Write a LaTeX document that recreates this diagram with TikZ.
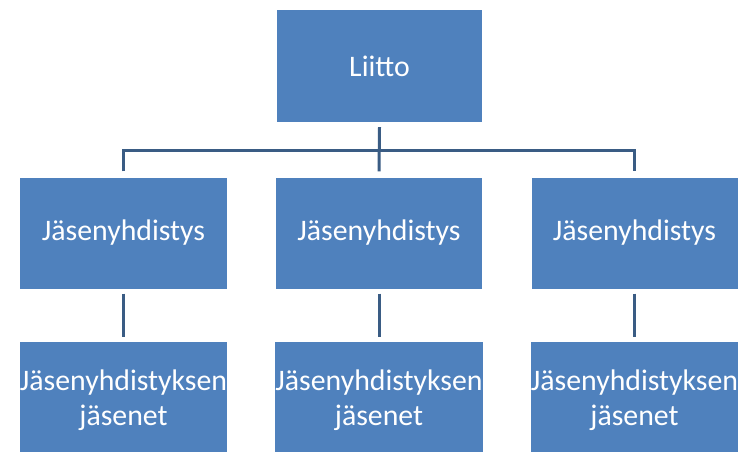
\documentclass[tikz,border=0pt]{standalone}
\usepackage{fontspec}
\setmainfont{Carlito}
\definecolor{boxblue}{HTML}{4F81BD}
\definecolor{linecol}{HTML}{3A5C84}
\begin{document}
\begin{tikzpicture}[x=1pt,y=1pt,
  orgbox/.style={fill=boxblue, draw=none, inner sep=0pt, text=white, align=center,
    font=\fontsize{29.8}{35}\selectfont},
  conn/.style={draw=linecol, line width=3pt, line join=miter}]
\useasboundingbox (0,0) rectangle (741,-452);
\clip (0,0) rectangle (741,-452);
\fill[white] (0,0) rectangle (741,-452);
\node[orgbox, minimum width=205, minimum height=112] (top) at (379.5,-66) {Liitto};
\node[orgbox, minimum width=207, minimum height=111] (m1) at (123.5,-233) {Jäsenyhdistys};
\node[orgbox, minimum width=206, minimum height=111] (m2) at (379,-233) {Jäsenyhdistys};
\node[orgbox, minimum width=206, minimum height=111] (m3) at (634.5,-233) {Jäsenyhdistys};
\node[orgbox, minimum width=207, minimum height=116] (b1) at (123.5,-400) {Jäsenyhdistyksen\\jäsenet};
\node[orgbox, minimum width=206, minimum height=116] (b2) at (379,-400) {Jäsenyhdistyksen\\jäsenet};
\node[orgbox, minimum width=206, minimum height=116] (b3) at (634.5,-400) {Jäsenyhdistyksen\\jäsenet};
\draw[conn] ([yshift=-5pt]top.south) -- ([yshift=6pt]m2.north);
\draw[conn] ([yshift=6pt]m1.north) -- ([yshift=27pt]m1.north) -- ([yshift=27pt]m3.north) -- ([yshift=6pt]m3.north);
\draw[conn] ([yshift=-5pt]m1.south) -- ([yshift=5pt]b1.north);
\draw[conn] ([yshift=-5pt]m2.south) -- ([yshift=5pt]b2.north);
\draw[conn] ([yshift=-5pt]m3.south) -- ([yshift=5pt]b3.north);
\end{tikzpicture}
\end{document}
